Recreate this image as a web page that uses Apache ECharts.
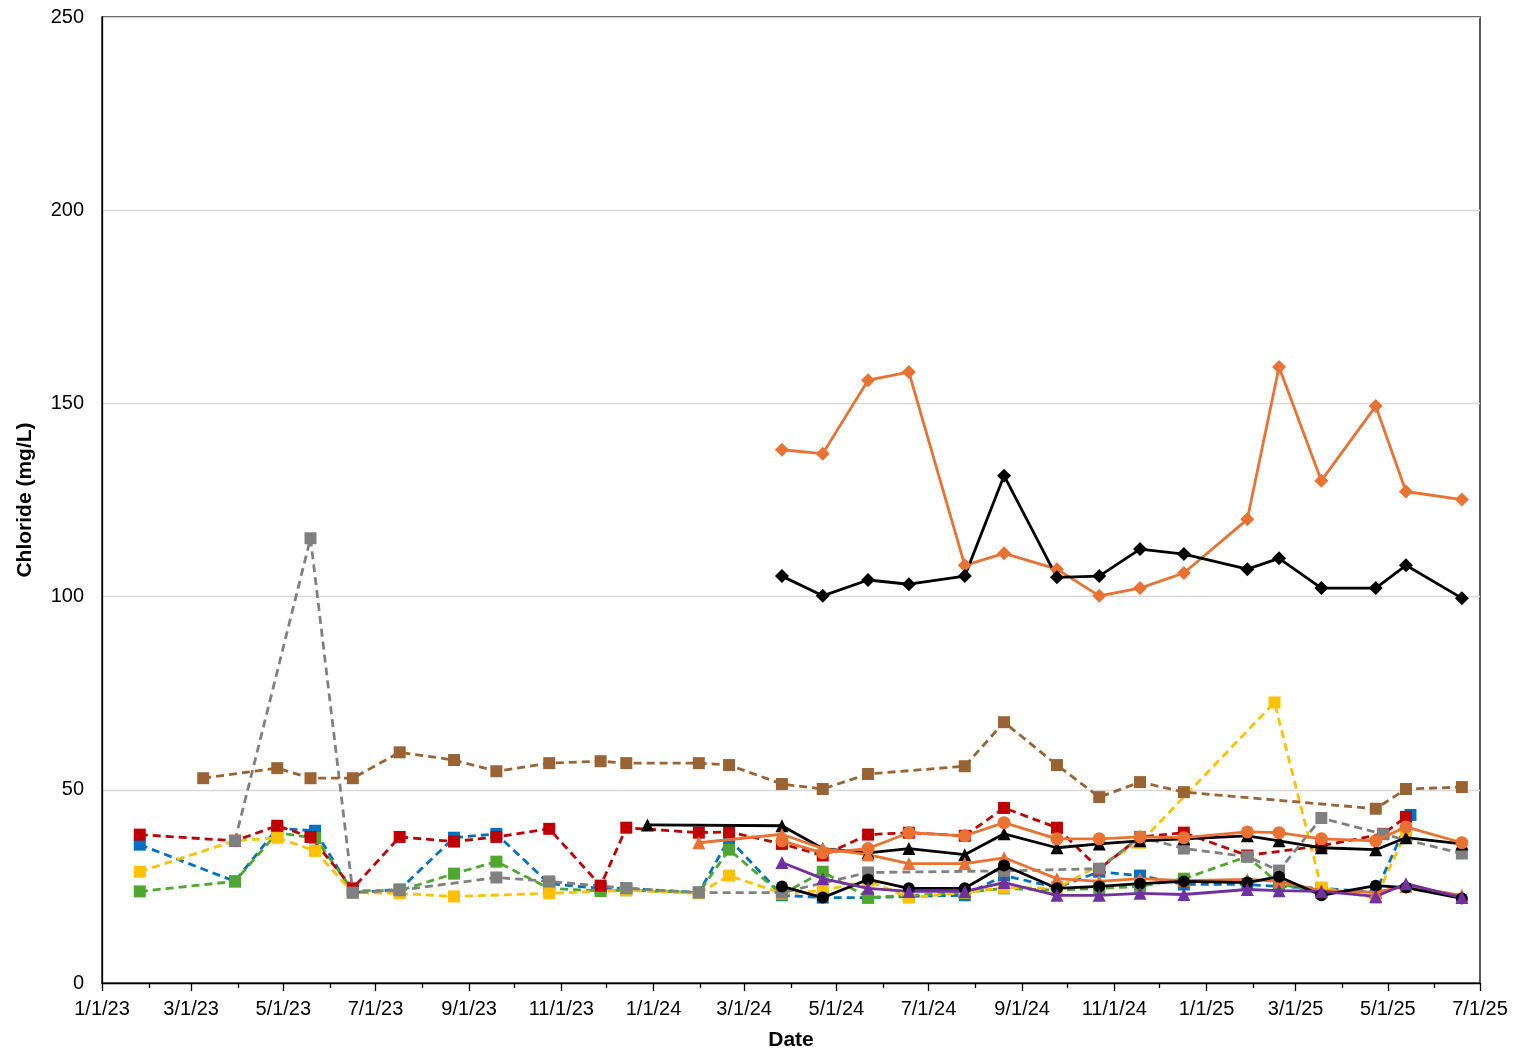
<!DOCTYPE html>
<html><head><meta charset="utf-8">
<script src="https://cdn.jsdelivr.net/npm/echarts@6/dist/echarts.min.js"></script>
<style>html,body{margin:0;padding:0;background:#fff;overflow:hidden}#c{width:1520px;height:1056px}</style>
</head><body><div id="c"></div>
<script>
const blueSeries = [['2023-01-26',35.8],['2023-03-30',26.3],['2023-04-27',40.0],['2023-05-22',39.4],['2023-06-16',23.4],['2023-07-17',24.2],['2023-08-22',37.6],['2023-09-19',38.6],['2023-10-24',25.7],['2023-11-27',24.5],['2023-12-14',24.5],['2024-01-31',23.4],['2024-02-20',37.3],['2024-03-26',22.7],['2024-04-22',22.1],['2024-05-22',22.1],['2024-06-18',22.4],['2024-07-25',22.7],['2024-08-20',27.8],['2024-09-24',24.7],['2024-10-22',28.8],['2024-11-18',27.8],['2024-12-17',25.5],['2025-01-28',25.5],['2025-02-18',25.0],['2025-03-18',24.5],['2025-04-23',23.5],['2025-05-16',43.5]];
const greenSeries = [['2023-01-26',23.7],['2023-03-30',26.3],['2023-04-27',38.9],['2023-05-22',37.5],['2023-06-16',23.9],['2023-07-17',23.9],['2023-08-22',28.3],['2023-09-19',31.4],['2023-10-24',24.5],['2023-11-27',23.8],['2023-12-14',24.0],['2024-01-31',23.4],['2024-02-20',34.5],['2024-03-26',22.9],['2024-04-22',28.8],['2024-05-22',22.1],['2024-06-18',22.7],['2024-07-25',23.4],['2024-08-20',24.5],['2024-09-24',24.0],['2024-10-22',24.5],['2024-11-18',25.0],['2024-12-17',27.0],['2025-01-28',32.7],['2025-02-18',25.7],['2025-03-18',23.4]];
const yellowSeries = [['2023-01-26',28.8],['2023-03-30',36.8],['2023-04-27',37.6],['2023-05-22',34.2],['2023-06-16',23.4],['2023-07-17',23.2],['2023-08-22',22.4],['2023-10-24',23.2],['2023-12-14',24.0],['2024-01-31',23.2],['2024-02-20',27.8],['2024-03-26',23.2],['2024-04-22',23.9],['2024-05-22',26.5],['2024-06-18',22.1],['2024-07-25',23.4],['2024-08-20',24.7],['2024-09-24',24.5],['2024-11-18',36.3],['2025-02-15',72.6],['2025-03-18',24.7],['2025-04-23',22.0],['2025-05-13',39.0]];
const redSeries = [['2023-01-26',38.4],['2023-03-30',36.8],['2023-04-27',40.7],['2023-05-19',37.8],['2023-06-16',24.5],['2023-07-17',37.8],['2023-08-22',36.6],['2023-09-19',37.8],['2023-10-24',39.9],['2023-11-27',25.2],['2023-12-14',40.2],['2024-01-31',38.9],['2024-02-20',39.1],['2024-03-26',36.0],['2024-04-22',33.0],['2024-05-22',38.4],['2024-06-18',38.9],['2024-07-25',38.1],['2024-08-20',45.3],['2024-09-24',40.2],['2024-10-22',29.5],['2024-11-18',37.8],['2024-12-17',38.9],['2025-01-28',33.0],['2025-03-18',35.5],['2025-04-28',38.6],['2025-05-13',43.0]];
const graySeries = [['2023-03-30',36.8],['2023-05-19',115.1],['2023-06-16',23.4],['2023-07-17',24.0],['2023-09-19',27.3],['2023-10-24',26.3],['2023-12-14',24.5],['2024-01-31',23.4],['2024-03-26',23.4],['2024-05-22',28.6],['2024-08-20',29.0],['2024-10-22',29.6],['2024-11-18',37.8],['2024-12-17',34.8],['2025-01-28',32.7],['2025-02-18',29.1],['2025-03-18',42.7],['2025-04-28',38.5],['2025-06-19',33.5]];
const brownSeries = [['2023-03-09',53.0],['2023-04-27',55.6],['2023-05-19',53.0],['2023-06-16',53.0],['2023-07-17',59.7],['2023-08-22',57.7],['2023-09-19',54.8],['2023-10-24',56.9],['2023-11-27',57.4],['2023-12-14',56.9],['2024-01-31',56.9],['2024-02-20',56.4],['2024-03-26',51.5],['2024-04-22',50.2],['2024-05-22',54.1],['2024-07-25',56.1],['2024-08-20',67.5],['2024-09-24',56.4],['2024-10-22',48.1],['2024-11-18',52.0],['2024-12-17',49.4],['2025-04-23',45.1],['2025-05-13',50.2],['2025-06-19',50.7]];
const orangeDiamondSeries = [['2024-03-26',138.0],['2024-04-22',137.0],['2024-05-22',156.0],['2024-06-18',158.1],['2024-07-25',108.1],['2024-08-20',111.2],['2024-09-24',107.1],['2024-10-22',100.2],['2024-11-18',102.2],['2024-12-17',106.1],['2025-01-28',120.0],['2025-02-18',159.4],['2025-03-18',130.0],['2025-04-23',149.3],['2025-05-13',127.2],['2025-06-19',125.1]];
const blackDiamondSeries = [['2024-03-26',105.3],['2024-04-22',100.2],['2024-05-22',104.3],['2024-06-18',103.2],['2024-07-25',105.3],['2024-08-20',131.3],['2024-09-24',105.0],['2024-10-22',105.3],['2024-11-18',112.3],['2024-12-17',111.0],['2025-01-28',107.1],['2025-02-18',109.9],['2025-03-18',102.2],['2025-04-23',102.2],['2025-05-13',108.1],['2025-06-19',99.6]];
const blackTriangleSeries = [['2023-12-28',40.9],['2024-03-26',40.7],['2024-04-22',34.8],['2024-05-22',33.7],['2024-06-18',34.8],['2024-07-25',33.2],['2024-08-20',38.6],['2024-09-24',35.0],['2024-10-22',36.0],['2024-11-18',36.8],['2024-12-17',37.3],['2025-01-28',38.1],['2025-02-18',36.8],['2025-03-18',35.0],['2025-04-23',34.5],['2025-05-13',37.6],['2025-06-19',36.0]];
const orangeCircleSeries = [['2024-03-26',36.8],['2024-04-22',33.7],['2024-05-22',34.8],['2024-06-18',38.9],['2024-07-25',38.1],['2024-08-20',41.5],['2024-09-24',37.3],['2024-10-22',37.3],['2024-11-18',37.8],['2024-12-17',37.6],['2025-01-28',39.1],['2025-02-18',38.9],['2025-03-18',37.3],['2025-04-23',36.8],['2025-05-13',40.4],['2025-06-19',36.3]];
const orangeTriangleSeries = [['2024-01-31',36.3],['2024-03-26',38.5],['2024-04-22',34.8],['2024-05-22',33.2],['2024-06-18',30.9],['2024-07-25',30.9],['2024-08-20',32.4],['2024-09-24',27.0],['2024-10-22',26.3],['2024-11-18',27.0],['2024-12-17',26.5],['2025-01-28',26.8],['2025-02-18',26.3],['2025-03-18',23.9],['2025-04-23',23.5],['2025-05-13',25.0],['2025-06-19',22.7]];
const blackCircleSeries = [['2024-03-26',25.0],['2024-04-22',22.1],['2024-05-22',26.8],['2024-06-18',24.5],['2024-07-25',24.5],['2024-08-20',30.4],['2024-09-24',24.5],['2024-10-22',25.0],['2024-11-18',25.7],['2024-12-17',26.3],['2025-01-28',26.0],['2025-02-18',27.5],['2025-03-18',22.7],['2025-04-23',25.2],['2025-05-13',24.7],['2025-06-19',21.9]];
const purpleTriangleSeries = [['2024-03-26',31.2],['2024-04-22',27.0],['2024-05-22',24.5],['2024-06-18',23.7],['2024-07-25',23.7],['2024-08-20',26.0],['2024-09-24',22.7],['2024-10-22',22.7],['2024-11-18',23.2],['2024-12-17',22.9],['2025-01-28',24.2],['2025-02-18',23.9],['2025-03-18',23.7],['2025-04-23',22.4],['2025-05-13',25.7],['2025-06-19',22.1]];

const xMin = '2023-01-01', xMax = '2025-07-01';
const yTicks = [0, 50, 100, 150, 200, 250];

function ts(s){ const p = s.split('-').map(Number); return Date.UTC(p[0], p[1]-1, p[2]); }
const majorTicks = [], minorTicks = [];
{
  let y = 2023, m = 0;
  while (Date.UTC(y, m, 1) <= ts(xMax)) {
    const t = Date.UTC(y, m, 1);
    if (m % 2 === 0) majorTicks.push(t); else minorTicks.push(t);
    m++; if (m > 11) { m = 0; y++; }
  }
}
const toPts = arr => arr.map(d => [ts(d[0]), d[1]]);
const FONT = '"Liberation Sans", Arial, sans-serif';

function dashed(name, data, color){
  return {name, type:'line', data:toPts(data), symbol:'rect', symbolSize:12,
    lineStyle:{color, width:2.8, type:[8,5]}, itemStyle:{color}, z:2};
}
function solid(name, data, color, symbol, size){
  return {name, type:'line', data:toPts(data), symbol, symbolSize:size,
    lineStyle:{color, width:2.8}, itemStyle:{color}, z:3};
}
function fmtDate(v){
  const d = new Date(v);
  return (d.getUTCMonth()+1)+'/'+d.getUTCDate()+'/'+String(d.getUTCFullYear()).slice(2);
}

const chart = echarts.init(document.getElementById('c'));
chart.setOption({
  animation:false,
  backgroundColor:'#fff',
  grid:{left:102, right:40, top:17, bottom:68, show:true, borderColor:'#000', borderWidth:1.3, backgroundColor:'transparent'},
  xAxis:[{
    type:'value', min:ts(xMin), max:ts(xMax),
    name:'Date', nameLocation:'middle', nameGap:47,
    nameTextStyle:{fontFamily:FONT, fontWeight:'bold', fontSize:21, color:'#000'},
    axisLine:{show:true, lineStyle:{color:'#000', width:1.3}},
    axisTick:{show:true, length:8, lineStyle:{color:'#000', width:1.3}, customValues:majorTicks},
    axisLabel:{show:true, margin:16, fontFamily:FONT, fontSize:20, color:'#000', customValues:majorTicks, hideOverlap:false,
      showMinLabel:true, showMaxLabel:true, formatter:fmtDate},
    splitLine:{show:false}
  },{
    type:'value', min:ts(xMin), max:ts(xMax), position:'bottom', gridIndex:0,
    axisLine:{show:false},
    axisTick:{show:true, length:5, lineStyle:{color:'#000', width:1.3}, customValues:minorTicks},
    axisLabel:{show:false}, splitLine:{show:false}
  }],
  yAxis:{
    type:'value', min:yTicks[0], max:yTicks[yTicks.length-1], interval:50,
    name:'Chloride (mg/L)', nameLocation:'middle', nameGap:66, nameRotate:90,
    nameTextStyle:{fontFamily:FONT, fontWeight:'bold', fontSize:21, color:'#000'},
    axisLine:{show:true, lineStyle:{color:'#000', width:1.3}},
    axisTick:{show:false},
    axisLabel:{fontFamily:FONT, fontSize:20, color:'#000', margin:18},
    splitLine:{show:true, lineStyle:{color:'#d9d9d9', width:1.3}}
  },
  series:[
    dashed('Blue', blueSeries, '#0070C0'),
    dashed('Green', greenSeries, '#4EA72E'),
    dashed('Yellow', yellowSeries, '#FFC000'),
    dashed('Red', redSeries, '#C00000'),
    dashed('Gray', graySeries, '#808080'),
    dashed('Brown', brownSeries, '#9A6333'),
    solid('Orange diamond', orangeDiamondSeries, '#E97132', 'diamond', 14),
    solid('Black diamond', blackDiamondSeries, '#000000', 'diamond', 14),
    solid('Black triangle', blackTriangleSeries, '#000000', 'triangle', 13),
    solid('Orange circle', orangeCircleSeries, '#E97132', 'circle', 13),
    solid('Orange triangle', orangeTriangleSeries, '#E97132', 'triangle', 13),
    solid('Black circle', blackCircleSeries, '#000000', 'circle', 12),
    solid('Purple triangle', purpleTriangleSeries, '#7030A0', 'triangle', 13)
  ]
});
</script></body></html>
